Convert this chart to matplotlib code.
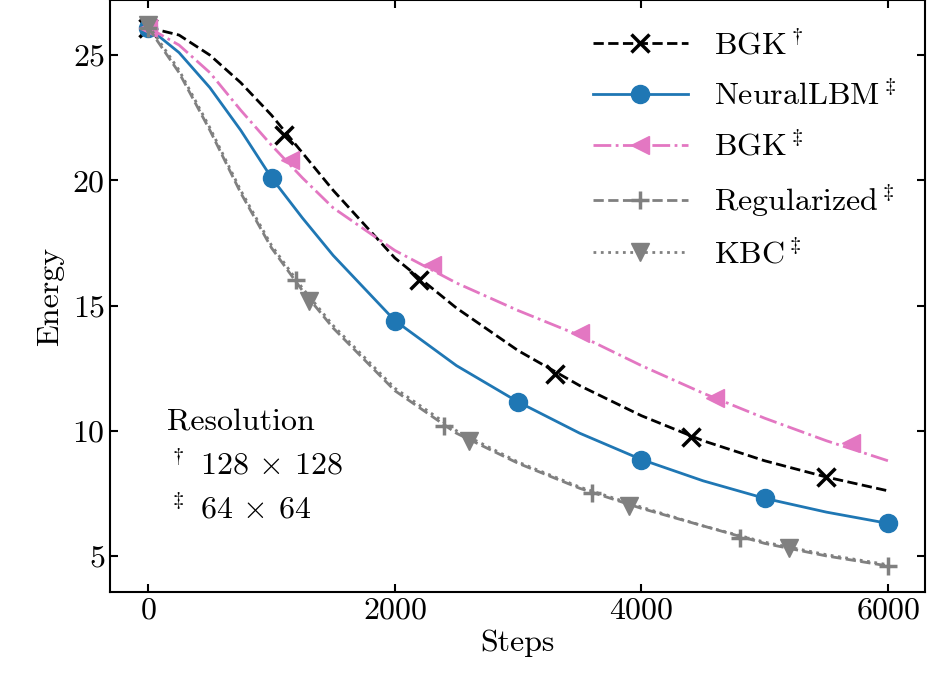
import matplotlib
matplotlib.use("Agg")
import matplotlib.pyplot as plt

plt.rcParams.update({"font.family": "serif", "font.serif": ["cmr10"], "mathtext.fontset": "cm",
                     "axes.formatter.use_mathtext": True, "font.size": 23,
                     "xtick.direction": "in", "ytick.direction": "in",
                     "xtick.top": True, "ytick.right": True})

steps = [0, 250, 500, 750, 1000, 1250, 1500, 2000, 2500, 3000, 3500, 4000, 4500, 5000, 5500, 6000]
bgk_hi = [26.1, 25.8, 25.0, 23.9, 22.6, 21.1, 19.6, 16.9, 14.9, 13.2, 11.8, 10.6, 9.6, 8.8, 8.15, 7.6]
neural = [26.1, 25.1, 23.7, 22.0, 20.1, 18.5, 17.0, 14.4, 12.6, 11.15, 9.9, 8.85, 8.0, 7.3, 6.75, 6.3]
bgk_lo = [26.1, 25.4, 24.3, 22.8, 21.4, 20.1, 18.9, 17.2, 15.9, 14.8, 13.8, 12.6, 11.5, 10.5, 9.6, 8.8]
regul = [26.1, 24.3, 22.0, 19.5, 17.3, 15.6, 14.1, 11.6, 9.9, 8.7, 7.7, 6.9, 6.2, 5.5, 5.0, 4.6]
kbc = [26.2, 24.4, 22.1, 19.6, 17.4, 15.7, 14.2, 11.7, 10.0, 8.75, 7.75, 6.95, 6.2, 5.55, 5.05, 4.65]

bgk_hi_mx = [0, 1100, 2200, 3300, 4400, 5500]; bgk_hi_my = [26.1, 21.8, 16.0, 12.25, 9.75, 8.15]
neural_mx = [0, 1000, 2000, 3000, 4000, 5000, 6000]; neural_my = [26.1, 20.1, 14.4, 11.15, 8.85, 7.3, 6.3]
bgk_lo_mx = [0, 1150, 2300, 3500, 4600, 5700]; bgk_lo_my = [26.1, 20.8, 16.6, 13.9, 11.3, 9.5]
regul_mx = [0, 1200, 2400, 3600, 4800, 6000]; regul_my = [26.1, 16.0, 10.2, 7.5, 5.7, 4.6]
kbc_mx = [0, 1300, 2600, 3900, 5200]; kbc_my = [26.2, 15.2, 9.6, 7.0, 5.3]

fig = plt.figure(figsize=(9.28, 6.99), dpi=100)
ax = fig.add_axes([110/928, 1-592/699, 815/928, 592/699])
series = [
    (bgk_hi, bgk_hi_mx, bgk_hi_my, "black", "--", "x", r"BGK$^\dagger$"),
    (neural, neural_mx, neural_my, "#1f77b4", "-", "o", r"NeuralLBM$^\ddagger$"),
    (bgk_lo, bgk_lo_mx, bgk_lo_my, "#e377c2", "-.", "<", r"BGK$^\ddagger$"),
    (regul, regul_mx, regul_my, "grey", "--", "+", r"Regularized$^\ddagger$"),
    (kbc, kbc_mx, kbc_my, "grey", ":", "v", r"KBC$^\ddagger$"),
]
for y, mx, my, c, ls, m, lab in series:
    mew = 2.5 if m in "x+" else 1
    ax.plot(steps, y, color=c, ls=ls, lw=2)
    ax.plot(mx, my, color=c, ls="none", marker=m, ms=13, mew=mew)
    ax.plot([], [], color=c, ls=ls, lw=2, marker=m, ms=13, mew=mew, label=lab)

ax.legend(frameon=False, loc="upper right", fontsize=23, handlelength=3, labelspacing=0.6)
ax.text(0.07, 0.31, "Resolution\n" + r"$^\dagger$ 128 $\times$ 128" + "\n" + r"$^\ddagger$ 64 $\times$ 64",
        transform=ax.transAxes, va="top", fontsize=23, linespacing=1.5)
ax.set_xlim(-310, 6300); ax.set_ylim(3.56, 27.2)
ax.set_xticks([0, 2000, 4000, 6000]); ax.set_yticks([5, 10, 15, 20, 25])
ax.set_xlabel("Steps", labelpad=4); ax.set_ylabel("Energy", labelpad=6)
for s in ax.spines.values(): s.set_linewidth(1.5)
ax.tick_params(width=1.5, length=6)
fig.savefig("out.png")
